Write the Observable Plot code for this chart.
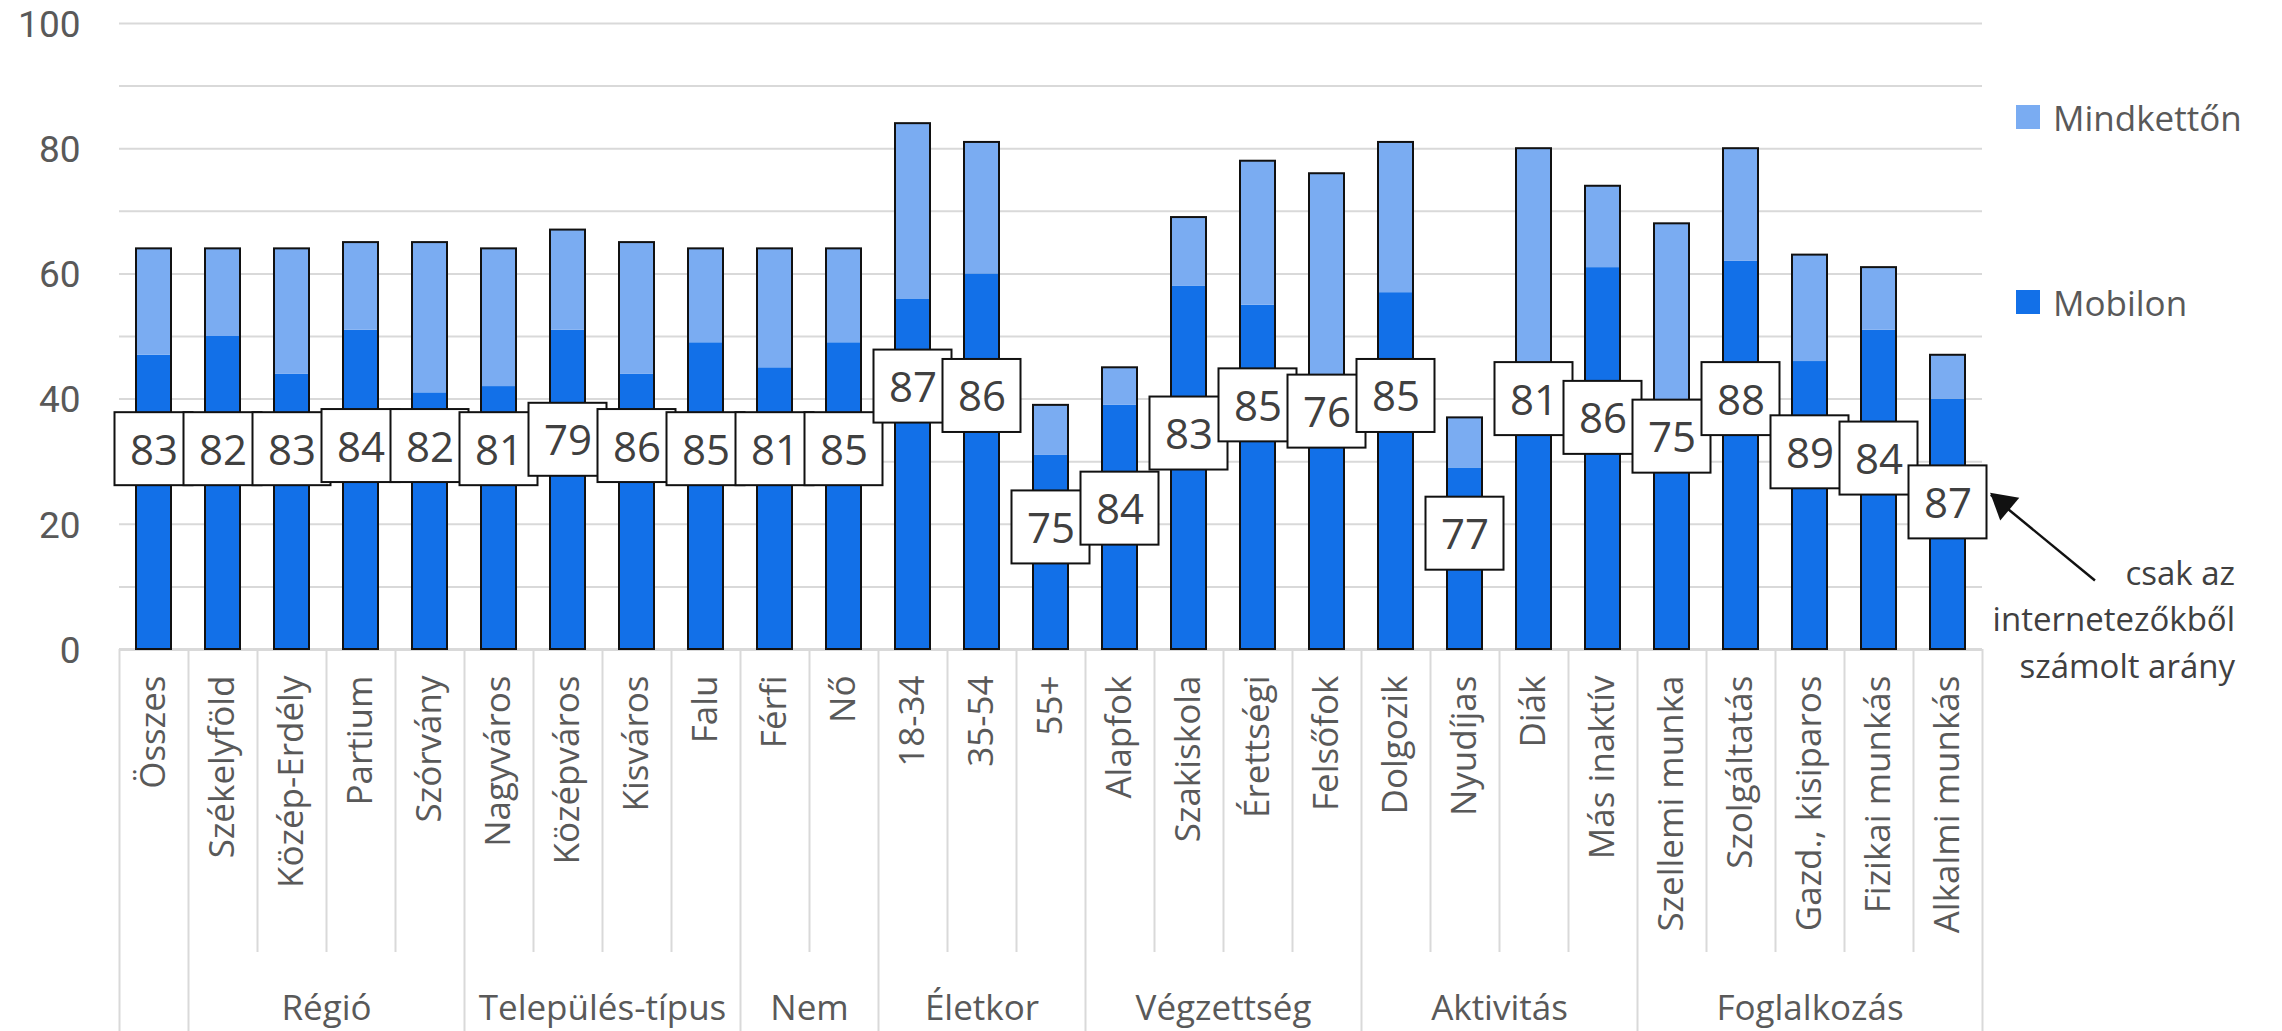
<!DOCTYPE html>
<html>
<head>
<meta charset="utf-8">
<script src="https://cdn.jsdelivr.net/npm/d3@7"></script>
<script src="https://cdn.jsdelivr.net/npm/@observablehq/plot@0.6"></script>
<style>
  html, body { margin: 0; padding: 0; background: #fff; }
  #wrap { position: relative; width: 2282px; height: 1031px; overflow: hidden; font-family: "Open Sans", sans-serif; }
  #chart { position: absolute; left: 0; top: 0; }
  .leg { position: absolute; left: 2016px; display: flex; align-items: center; font-size: 35px; color: #595959; }
  .leg .sw { width: 24px; height: 24px; margin-right: 13px; }
</style>
</head>
<body>
<div id="wrap"><div id="chart"></div></div>
<script>
// ---- data ----
const categories = ["Összes","Székelyföld","Közép-Erdély","Partium","Szórvány","Nagyváros","Középváros","Kisváros","Falu","Férfi","Nő","18-34","35-54","55+","Alapfok","Szakiskola","Érettségi","Felsőfok","Dolgozik","Nyudíjas","Diák","Más inaktív","Szellemi munka","Szolgáltatás","Gazd., kisiparos","Fizikai munkás","Alkalmi munkás"];
const mobilon    = [47,50,44,51,41,42,51,44,49,45,49,56,60,31,39,58,55,42,57,29,39,61,35,62,46,51,40];
const mindketton = [17,14,20,14,24,22,16,21,15,19,15,28,21, 8, 6,11,23,34,24, 8,41,13,33,18,17,10, 7];
const internetShare = [83,82,83,84,82,81,79,86,85,81,85,87,86,75,84,83,85,76,85,77,81,86,75,88,89,84,87];
const groupNames = ["", "Régió", "Település-típus", "Nem", "Életkor", "Végzettség", "Aktivitás", "Foglalkozás"];
const groupSizes = [1, 4, 4, 2, 3, 4, 4, 5];
const seriesNames = ["Mindkettőn", "Mobilon"];
const seriesColors = ["#7AACF2", "#1270E8"];
const yTicks = [0, 20, 40, 60, 80, 100];
const yGrid = [10, 20, 30, 40, 50, 60, 70, 80, 90, 100];
const annotationText = "csak az\ninternetezőkből\nszámolt arány";

// ---- derived tables ----
const rows = categories.map((c, i) => ({
  i, c, m: mobilon[i], b: mindketton[i], t: mobilon[i] + mindketton[i], share: internetShare[i]
}));
const segments = rows.flatMap(r => [
  {i: r.i, y1: 0, y2: r.m, s: "Mobilon"},
  {i: r.i, y1: r.m, y2: r.t, s: "Mindkettőn"}
]);
let acc = 0;
const groups = groupNames.map((g, k) => { const start = acc; acc += groupSizes[k]; return {g, start, end: acc}; });
const groupBounds = [0, ...groups.map(g => g.end)];
const allBounds = d3.range(0, categories.length + 1);
const shortBounds = allBounds.filter(b => !groupBounds.includes(b));

// ---- layout helpers (pixel offsets below the axis -> y units) ----
const PX = (649 - 23) / 100;
const below = px => -px / PX;

const chart = Plot.plot({
  width: 2282,
  height: 1031,
  marginLeft: 119,
  marginRight: 300,
  marginTop: 23,
  marginBottom: 382,
  x: {domain: [0, categories.length], axis: null},
  y: {domain: [0, 100], axis: null},
  color: {domain: seriesNames, range: seriesColors},
  style: {fontFamily: "Open Sans, sans-serif", background: "white", overflow: "visible"},
  marks: [
    Plot.ruleY(yGrid, {stroke: "#d9d9d9", strokeWidth: 2}),
    Plot.text(yTicks, {x: 0, y: d => d, text: d => String(d), dx: -39, dy: 1.5, textAnchor: "end", fontSize: 37, fontFamily: "Roboto, sans-serif", fill: "#595959"}),
    // separators of the category table
    Plot.ruleX(shortBounds, {x: d => d, y1: 0, y2: below(303), stroke: "#d9d9d9", strokeWidth: 2}),
    Plot.ruleX(groupBounds, {x: d => d, y1: 0, y2: below(385), stroke: "#d9d9d9", strokeWidth: 2}),
    Plot.ruleY([0], {stroke: "#d9d9d9", strokeWidth: 3}),
    // stacked bars
    Plot.rectY(segments, {x1: d => d.i, x2: d => d.i + 1, y1: "y1", y2: "y2", fill: "s", insetLeft: 17, insetRight: 17}),
    Plot.rectY(rows, {x1: d => d.i, x2: d => d.i + 1, y1: 0, y2: "t", fill: "none", stroke: "#111", strokeWidth: 2, insetLeft: 17, insetRight: 17}),
    // label boxes
    Plot.rect(rows, {x1: d => d.i, x2: d => d.i + 1, y1: d => d.t / 2, y2: d => d.t / 2, fill: "white", stroke: "#111", strokeWidth: 2, insetLeft: -4.5, insetRight: -4.5, insetTop: -36.5, insetBottom: -36.5}),
    Plot.text(rows, {x: d => d.i + 0.5, y: d => d.t / 2, text: d => String(d.share), fontSize: 42, fill: "#404040", dy: 2}),
    // category labels
    Plot.text(rows, {x: d => d.i + 0.5, y: 0, text: "c", rotate: -90, textAnchor: "end", dy: 26, fontSize: 35, fill: "#595959"}),
    // group labels
    Plot.text(groups.filter(g => g.g), {x: g => (g.start + g.end) / 2, y: below(359), text: "g", fontSize: 35, fill: "#595959"}),
    // annotation
    Plot.text([annotationText], {x: categories.length + 3.66, y: below(-33), text: d => d, textAnchor: "end", lineHeight: 1.41, fontSize: 33, fill: "#404040"}),
    Plot.link([rows[rows.length - 1]], {x1: categories.length + 1.63, y1: below(-69), x2: d => d.i + 1.12, y2: d => d.t / 2 + 1.2, stroke: "#111", strokeWidth: 2.5}),
    Plot.dot([rows[rows.length - 1]], {x: d => d.i + 1.3, y: d => d.t / 2 - 0.2, symbol: "triangle", r: 11, rotate: -50, fill: "#111", stroke: "none"})
  ]
});
document.getElementById("chart").appendChild(chart);

// legend (HTML, from series arrays)
const wrap = document.getElementById("wrap");
const legendTops = [117, 302];
seriesNames.forEach((name, k) => {
  const d = document.createElement("div");
  d.className = "leg";
  d.style.top = (legendTops[k] - 25) + "px";
  d.style.height = "50px";
  d.innerHTML = `<span class="sw" style="background:${seriesColors[k]}"></span><span>${name}</span>`;
  wrap.appendChild(d);
});
</script>
</body>
</html>
